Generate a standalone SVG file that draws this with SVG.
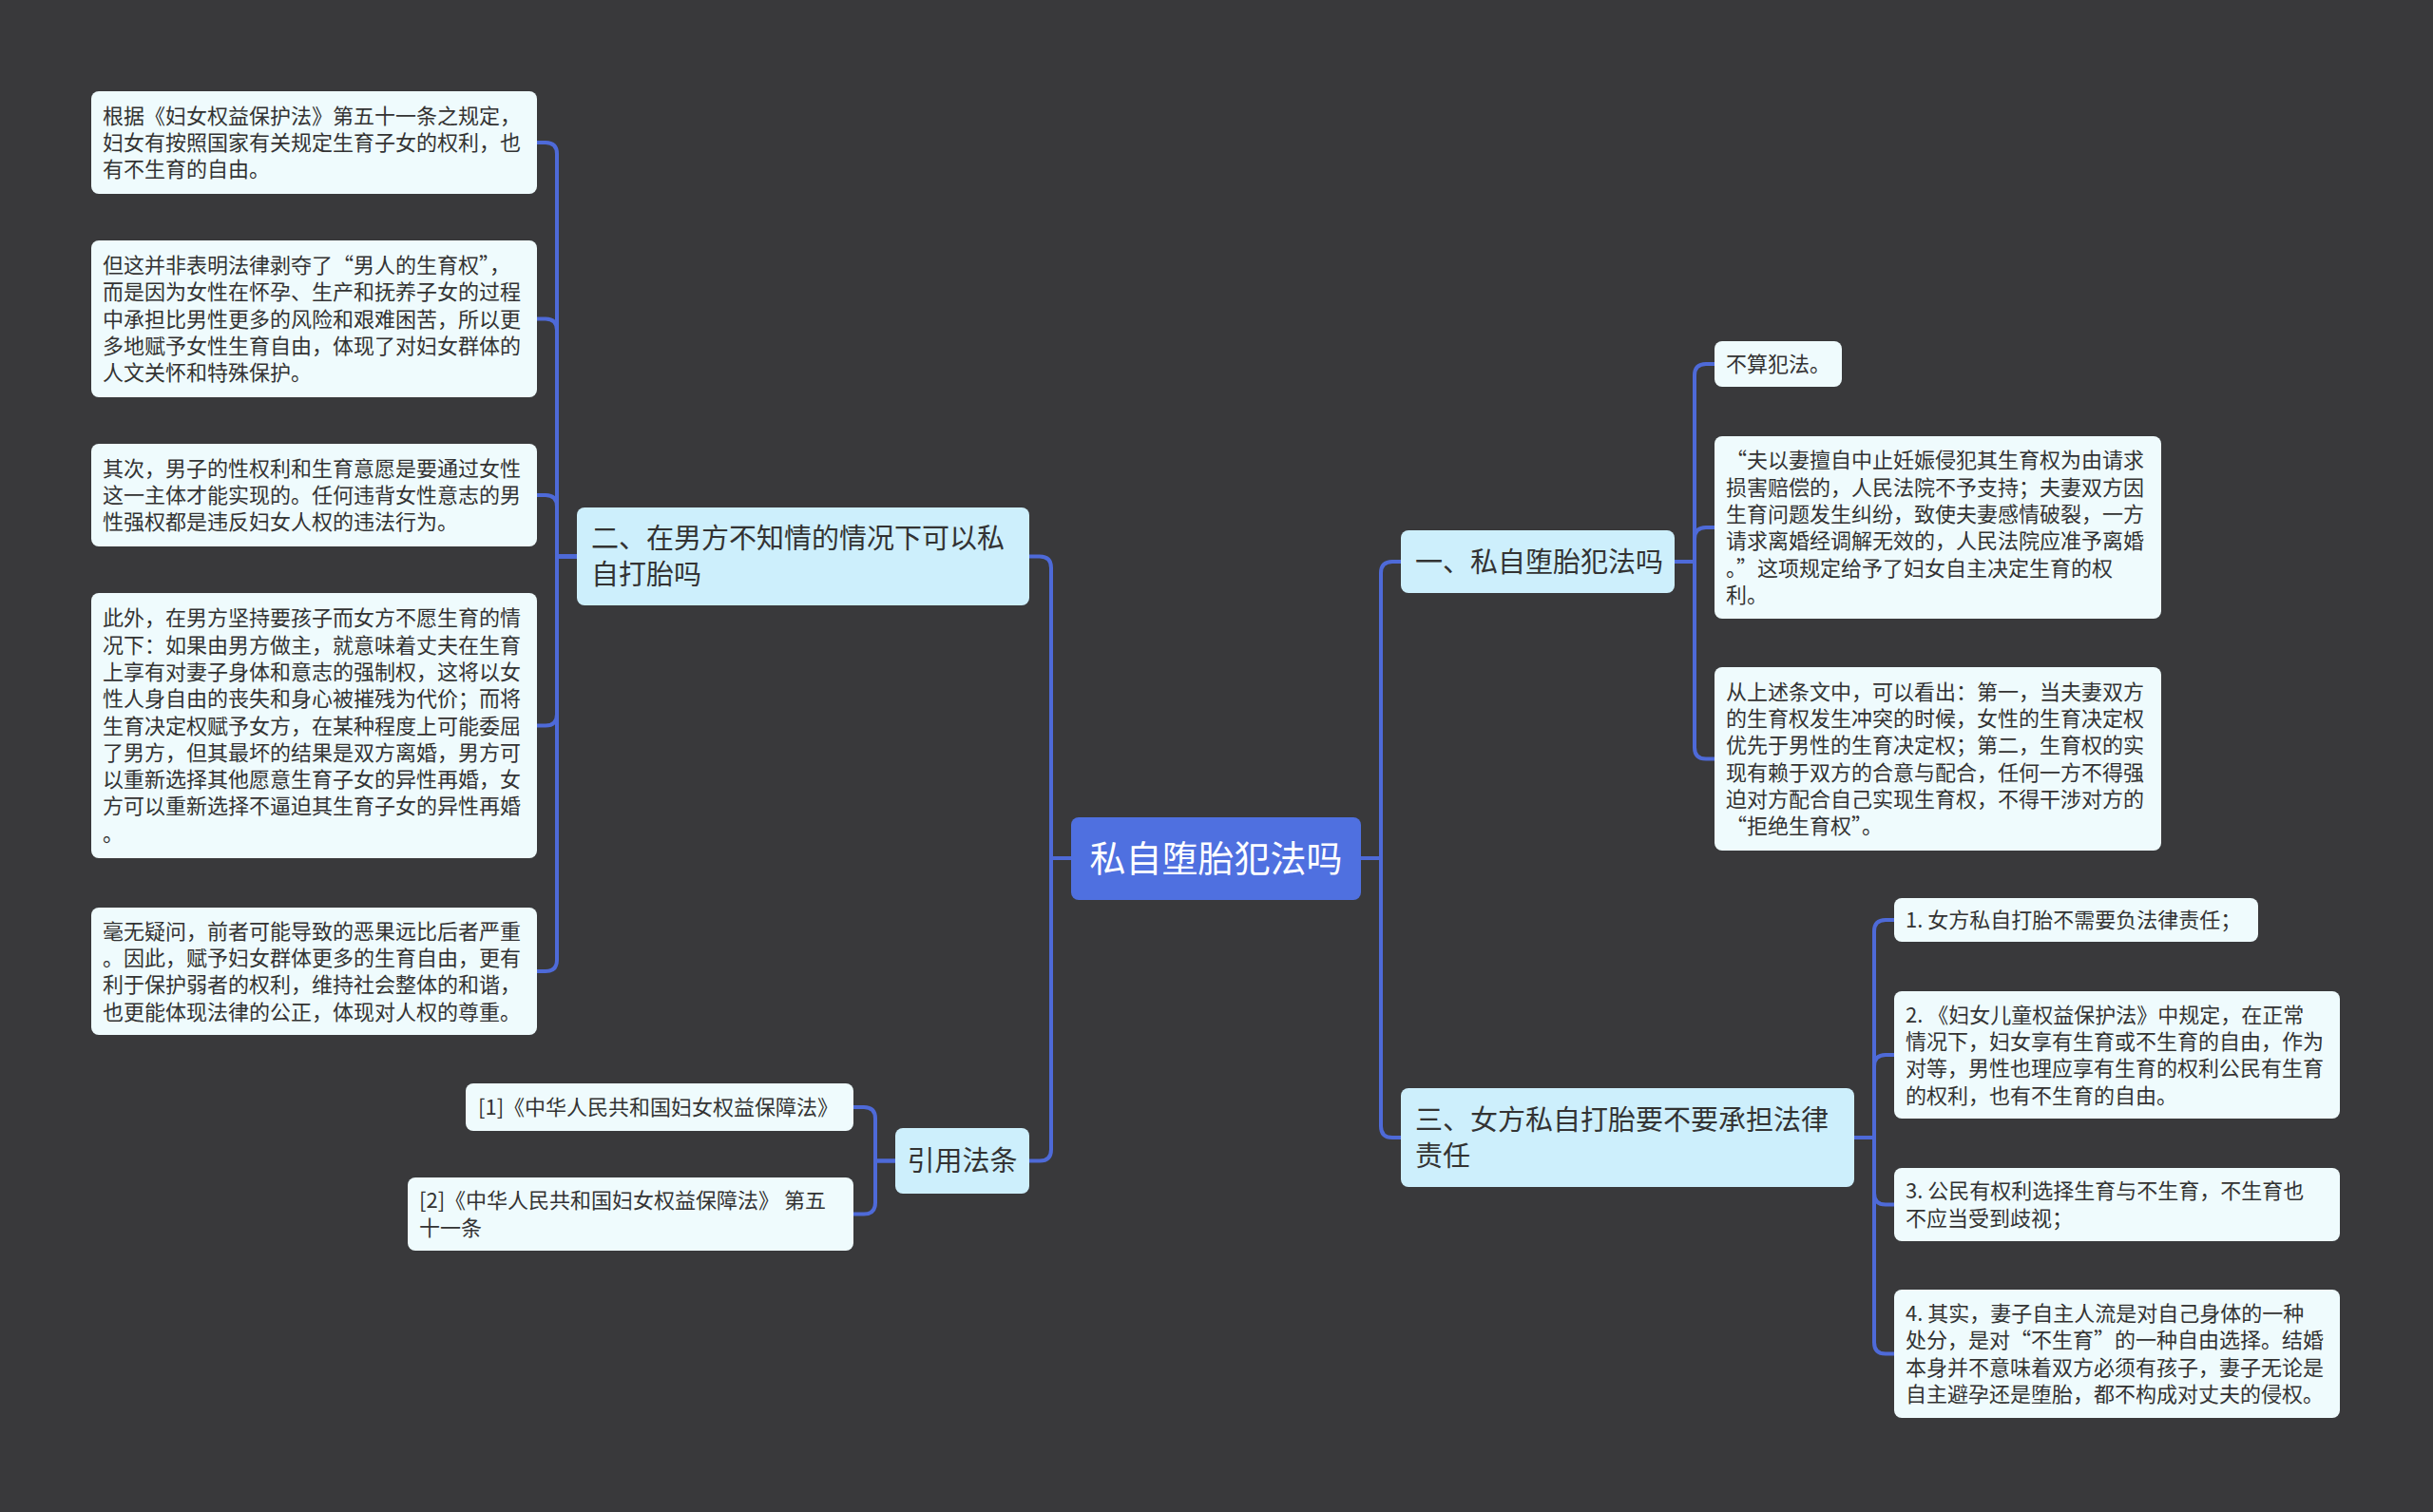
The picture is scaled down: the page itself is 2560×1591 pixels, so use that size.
<svg xmlns="http://www.w3.org/2000/svg" width="2560" height="1591" viewBox="0 0 2560 1591">
<style>
.bg{fill:#39393b}
.leaf{fill:#effbfd}
.br{fill:#cdeffc}
.root{fill:#4f70e0}
.t{font-family:"Noto Sans CJK SC","Microsoft YaHei",sans-serif;fill:#333333}
.lt{font-size:22px}
.bt{font-size:29px}
.rt{font-size:38px;fill:#ffffff}
.c{fill:none;stroke:#4e6ad8;stroke-width:4}
</style>
<rect class="bg" x="0" y="0" width="2560" height="1591"/>
<g id="connectors">
<path class="c" d="M1127,903 H1106 V597.5 Q1106,585.5 1094,585.5 H1083"/>
<path class="c" d="M1127,903 H1106 V1209.5 Q1106,1221.5 1094,1221.5 H1083"/>
<path class="c" d="M1432,903 H1453 V603 Q1453,591 1465,591 H1474"/>
<path class="c" d="M1432,903 H1453 V1185 Q1453,1197 1465,1197 H1474"/>
<path class="c" d="M607,585.5 H586 V162 Q586,150 574,150 H565"/>
<path class="c" d="M607,585.5 H586 V347.5 Q586,335.5 574,335.5 H565"/>
<path class="c" d="M607,585.5 H586 V533 Q586,521 574,521 H565"/>
<path class="c" d="M607,585.5 H586 V751.5 Q586,763.5 574,763.5 H565"/>
<path class="c" d="M607,585.5 H586 V1010 Q586,1022 574,1022 H565"/>
<path class="c" d="M1762,591 H1783 V395 Q1783,383 1795,383 H1804"/>
<path class="c" d="M1762,591 H1783 V567 Q1783,555 1795,555 H1804"/>
<path class="c" d="M1762,591 H1783 V786.5 Q1783,798.5 1795,798.5 H1804"/>
<path class="c" d="M1951,1197 H1972 V980 Q1972,968 1984,968 H1993"/>
<path class="c" d="M1951,1197 H1972 V1122 Q1972,1110 1984,1110 H1993"/>
<path class="c" d="M1951,1197 H1972 V1255.5 Q1972,1267.5 1984,1267.5 H1993"/>
<path class="c" d="M1951,1197 H1972 V1412.5 Q1972,1424.5 1984,1424.5 H1993"/>
<path class="c" d="M942,1221.5 H921 V1177 Q921,1165 909,1165 H898"/>
<path class="c" d="M942,1221.5 H921 V1265.5 Q921,1277.5 909,1277.5 H898"/>
</g>
<g id="root">
<rect class="root" x="1127" y="860" width="305" height="87" rx="8"/>
<text class="t rt" x="1279.5" y="917" text-anchor="middle">私自堕胎犯法吗</text>
</g>
<g id="b2">
<rect class="br" x="607" y="534" width="476" height="103" rx="8"/>
<text class="t bt" x="622" y="577">二、在男方不知情的情况下可以私<tspan x="622" dy="38">自打胎吗</tspan></text>
</g>
<g id="b1">
<rect class="br" x="1474" y="558" width="288" height="66" rx="8"/>
<text class="t bt" x="1489" y="601.5">一、私自堕胎犯法吗</text>
</g>
<g id="b3">
<rect class="br" x="1474" y="1145" width="477" height="104" rx="8"/>
<text class="t bt" x="1489" y="1188.5">三、女方私自打胎要不要承担法律<tspan x="1489" dy="38">责任</tspan></text>
</g>
<g id="bref">
<rect class="br" x="942" y="1187" width="141" height="69" rx="8"/>
<text class="t bt" x="1012.5" y="1232" text-anchor="middle">引用法条</text>
</g>
<g id="l1">
<rect class="leaf" x="96" y="96" width="469" height="108" rx="8"/>
<text class="t lt" x="108" y="129.7">根据《妇女权益保护法》第五十一条之规定，<tspan x="108" dy="28.3">妇女有按照国家有关规定生育子女的权利，也</tspan><tspan x="108" dy="28.3">有不生育的自由。</tspan></text>
</g>
<g id="l2">
<rect class="leaf" x="96" y="253" width="469" height="165" rx="8"/>
<text class="t lt" x="108" y="286.9">但这并非表明法律剥夺了“男人的生育权”，<tspan x="108" dy="28.3">而是因为女性在怀孕、生产和抚养子女的过程</tspan><tspan x="108" dy="28.3">中承担比男性更多的风险和艰难困苦，所以更</tspan><tspan x="108" dy="28.3">多地赋予女性生育自由，体现了对妇女群体的</tspan><tspan x="108" dy="28.3">人文关怀和特殊保护。</tspan></text>
</g>
<g id="l3">
<rect class="leaf" x="96" y="467" width="469" height="108" rx="8"/>
<text class="t lt" x="108" y="500.7">其次，男子的性权利和生育意愿是要通过女性<tspan x="108" dy="28.3">这一主体才能实现的。任何违背女性意志的男</tspan><tspan x="108" dy="28.3">性强权都是违反妇女人权的违法行为。</tspan></text>
</g>
<g id="l4">
<rect class="leaf" x="96" y="624" width="469" height="279" rx="8"/>
<text class="t lt" x="108" y="658.3">此外，在男方坚持要孩子而女方不愿生育的情<tspan x="108" dy="28.3">况下：如果由男方做主，就意味着丈夫在生育</tspan><tspan x="108" dy="28.3">上享有对妻子身体和意志的强制权，这将以女</tspan><tspan x="108" dy="28.3">性人身自由的丧失和身心被摧残为代价；而将</tspan><tspan x="108" dy="28.3">生育决定权赋予女方，在某种程度上可能委屈</tspan><tspan x="108" dy="28.3">了男方，但其最坏的结果是双方离婚，男方可</tspan><tspan x="108" dy="28.3">以重新选择其他愿意生育子女的异性再婚，女</tspan><tspan x="108" dy="28.3">方可以重新选择不逼迫其生育子女的异性再婚</tspan><tspan x="108" dy="28.3">。</tspan></text>
</g>
<g id="l5">
<rect class="leaf" x="96" y="955" width="469" height="134" rx="8"/>
<text class="t lt" x="108" y="987.6">毫无疑问，前者可能导致的恶果远比后者严重<tspan x="108" dy="28.3">。因此，赋予妇女群体更多的生育自由，更有</tspan><tspan x="108" dy="28.3">利于保护弱者的权利，维持社会整体的和谐，</tspan><tspan x="108" dy="28.3">也更能体现法律的公正，体现对人权的尊重。</tspan></text>
</g>
<g id="ref1">
<rect class="leaf" x="490" y="1140" width="408" height="50" rx="8"/>
<text class="t lt" x="503" y="1173">[1]《中华人民共和国妇女权益保障法》</text>
</g>
<g id="ref2">
<rect class="leaf" x="429" y="1239" width="469" height="77" rx="8"/>
<text class="t lt" x="441" y="1271.4">[2]《中华人民共和国妇女权益保障法》 第五<tspan x="441" dy="28.3">十一条</tspan></text>
</g>
<g id="r1">
<rect class="leaf" x="1804" y="359" width="134" height="48" rx="8"/>
<text class="t lt" x="1816" y="391">不算犯法。</text>
</g>
<g id="r2">
<rect class="leaf" x="1804" y="459" width="470" height="192" rx="8"/>
<text class="t lt" x="1816" y="492.3">“夫以妻擅自中止妊娠侵犯其生育权为由请求<tspan x="1816" dy="28.3">损害赔偿的，人民法院不予支持；夫妻双方因</tspan><tspan x="1816" dy="28.3">生育问题发生纠纷，致使夫妻感情破裂，一方</tspan><tspan x="1816" dy="28.3">请求离婚经调解无效的，人民法院应准予离婚</tspan><tspan x="1816" dy="28.3">。”这项规定给予了妇女自主决定生育的权</tspan><tspan x="1816" dy="28.3">利。</tspan></text>
</g>
<g id="r3">
<rect class="leaf" x="1804" y="702" width="470" height="193" rx="8"/>
<text class="t lt" x="1816" y="735.8">从上述条文中，可以看出：第一，当夫妻双方<tspan x="1816" dy="28.3">的生育权发生冲突的时候，女性的生育决定权</tspan><tspan x="1816" dy="28.3">优先于男性的生育决定权；第二，生育权的实</tspan><tspan x="1816" dy="28.3">现有赖于双方的合意与配合，任何一方不得强</tspan><tspan x="1816" dy="28.3">迫对方配合自己实现生育权，不得干涉对方的</tspan><tspan x="1816" dy="28.3">“拒绝生育权”。</tspan></text>
</g>
<g id="r4">
<rect class="leaf" x="1993" y="945" width="383" height="46" rx="8"/>
<text class="t lt" x="2005" y="976">1. 女方私自打胎不需要负法律责任；</text>
</g>
<g id="r5">
<rect class="leaf" x="1993" y="1043" width="469" height="134" rx="8"/>
<text class="t lt" x="2005" y="1075.6">2. 《妇女儿童权益保护法》中规定，在正常<tspan x="2005" dy="28.3">情况下，妇女享有生育或不生育的自由，作为</tspan><tspan x="2005" dy="28.3">对等，男性也理应享有生育的权利公民有生育</tspan><tspan x="2005" dy="28.3">的权利，也有不生育的自由。</tspan></text>
</g>
<g id="r6">
<rect class="leaf" x="1993" y="1229" width="469" height="77" rx="8"/>
<text class="t lt" x="2005" y="1261.4">3. 公民有权利选择生育与不生育，不生育也<tspan x="2005" dy="28.3">不应当受到歧视；</tspan></text>
</g>
<g id="r7">
<rect class="leaf" x="1993" y="1357" width="469" height="135" rx="8"/>
<text class="t lt" x="2005" y="1390">4. 其实，妻子自主人流是对自己身体的一种<tspan x="2005" dy="28.3">处分，是对“不生育”的一种自由选择。结婚</tspan><tspan x="2005" dy="28.3">本身并不意味着双方必须有孩子，妻子无论是</tspan><tspan x="2005" dy="28.3">自主避孕还是堕胎，都不构成对丈夫的侵权。</tspan></text>
</g>
</svg>
